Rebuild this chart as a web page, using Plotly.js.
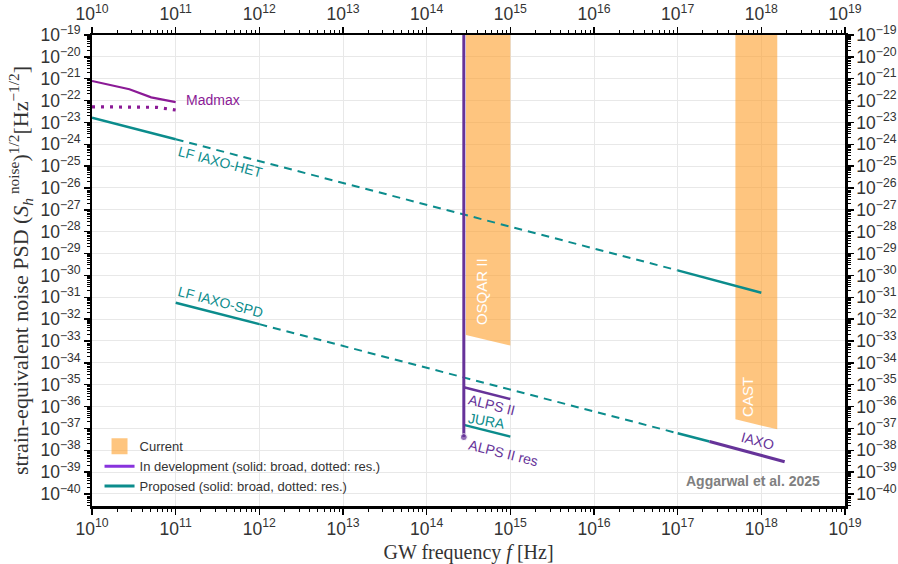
<!DOCTYPE html>
<html><head><meta charset="utf-8">
<script src="https://cdn.plot.ly/plotly-3.0.1.min.js"></script>
<style>body{margin:0;background:#fff}</style>
</head><body><div id="chart" style="width:898px;height:564px"></div>
<script>
// ---- data ----
const madmaxF = [1e10, 2.8e10, 5.1e10, 1e11];
const madmaxS = [7.9e-22, 3.3e-22, 1.4e-22, 8.5e-23];
const madmaxResF = [1e10, 6e10, 1e11];
const madmaxResS = [5.2e-23, 4.9e-23, 3.7e-23];
const hetF = [1e10, 1e11, 1e17, 1e18];
const hetS = [1.66e-23, 1.7e-24, 1.7e-30, 1.6e-31];
const spdF = [1e11, 1e12, 1e17, 2.4e17, 1.9e18];
const spdS = [5.6e-32, 5.9e-33, 6.0e-38, 2.5e-38, 3.0e-39];
const alpsF = [2.78e14, 2.78e14];
const alpsS = [1e-19, 4.0e-38];
const alpsIIF = [2.78e14, 1e15];
const alpsIIS = [7.6e-36, 2.2e-36];
const juraF = [2.78e14, 1e15];
const juraS = [1.45e-37, 4.2e-38];
const osqarF = [2.95e14, 1e15];
const osqarTop = [1e-19, 1e-19];
const osqarBottom = [1.9e-33, 6.2e-34];
const castF = [4.9e17, 1.55e18];
const castTop = [1e-19, 1e-19];
const castBottom = [2.6e-37, 9.1e-38];
const legendLabels = ["Current", "In development (solid: broad, dotted: res.)", "Proposed (solid: broad, dotted: res.)"];

const ORANGE = "rgba(253,158,42,0.6)";
const PURPLE = "#663399";
const MAGENTA = "#8b1a96";
const TEAL = "#0b8c8c";

function band(f, top, bottom) {
  return {x: [f[0], f[1], f[1], f[0], f[0]], y: [top[0], top[1], bottom[1], bottom[0], top[0]],
    type: "scatter", mode: "lines", fill: "toself", fillcolor: ORANGE, line: {width: 0, color: ORANGE},
    showlegend: false, hoverinfo: "skip"};
}
function seg(f, s, i0, i1, color, dash, width) {
  return {x: f.slice(i0, i1 + 1), y: s.slice(i0, i1 + 1), type: "scatter", mode: "lines",
    line: {color: color, dash: dash || "solid", width: width || 2.5}, showlegend: false, hoverinfo: "skip"};
}
const DASH = "8px,6px";
const traces = [
  band(osqarF, osqarTop, osqarBottom),
  band(castF, castTop, castBottom),
  seg(madmaxF, madmaxS, 0, 3, MAGENTA, "solid", 2.2),
  seg(madmaxResF, madmaxResS, 0, 2, MAGENTA, "3px,6px", 3.2),
  seg(hetF, hetS, 0, 1, TEAL),
  seg(hetF, hetS, 1, 2, TEAL, DASH, 2),
  seg(hetF, hetS, 2, 3, TEAL),
  seg(spdF, spdS, 0, 1, TEAL),
  seg(spdF, spdS, 1, 2, TEAL, DASH, 2),
  seg(spdF, spdS, 2, 3, TEAL),
  seg(spdF, spdS, 3, 4, PURPLE, "solid", 3),
  seg(alpsIIF, alpsIIS, 0, 1, PURPLE),
  seg(juraF, juraS, 0, 1, TEAL),
  {x: alpsF, y: alpsS, type: "scatter", mode: "lines+markers", line: {color: PURPLE, width: 3},
   marker: {size: [0, 7], color: PURPLE}, showlegend: false, hoverinfo: "skip"},
  {x: [null], y: [null], type: "scatter", mode: "markers", marker: {symbol: "square", size: 17, color: ORANGE}, name: legendLabels[0], legendrank: 1},
  {x: [null], y: [null], type: "scatter", mode: "lines", line: {color: "#8833dd", width: 3}, name: legendLabels[1], legendrank: 2},
  {x: [null], y: [null], type: "scatter", mode: "lines", line: {color: TEAL, width: 3}, name: legendLabels[2], legendrank: 3},
  {x: [1e10], y: [1e-30], xaxis: "x2", yaxis: "y2", type: "scatter", mode: "markers", marker: {opacity: 0}, showlegend: false, hoverinfo: "skip"}
];

const tickFont = {family: "Liberation Sans, Arial, sans-serif", size: 14, color: "#333"};
const axBase = {type: "log", exponentformat: "power", showexponent: "all", dtick: 1,
  ticks: "outside", ticklen: 6, tickwidth: 1.5, tickcolor: "#000",
  showline: true, linecolor: "#000", linewidth: 2.5, zeroline: false, tickfont: tickFont,
  minor: {ticks: "outside", ticklen: 3, tickwidth: 1, tickcolor: "#000", showgrid: false}};
const xRange = [10, 19], yRange = [-40.55, -19];
const titleFont = {family: "Liberation Serif, Times New Roman, serif", size: 20, color: "#333"};

const lab = (x, y, text, color, angle, size) => ({x: x, y: y, xref: "x", yref: "y", text: text, showarrow: false,
  textangle: angle || 0, font: {family: "Liberation Sans, Arial, sans-serif", size: size || 14, color: color}});

const layout = {
  width: 898, height: 564, margin: {l: 92, r: 53, t: 35, b: 58},
  paper_bgcolor: "#fff", plot_bgcolor: "#fff",
  xaxis: Object.assign({}, axBase, {range: xRange, showgrid: true, gridcolor: "#e8e8e8", gridwidth: 1,
    title: {text: "GW frequency <i>f</i> [Hz]", font: titleFont, standoff: 8}}),
  yaxis: Object.assign({}, axBase, {range: yRange, showgrid: true, gridcolor: "#e8e8e8", gridwidth: 1,
    title: {text: "strain-equivalent noise PSD (<i>S</i><sub><i>h</i></sub><sup> noise</sup>)<sup>1/2</sup>[Hz<sup>−1/2</sup>]", font: Object.assign({}, titleFont, {size: 22}), standoff: 6}}),
  xaxis2: Object.assign({}, axBase, {range: xRange, overlaying: "x", side: "top", anchor: "y2", showgrid: false}),
  yaxis2: Object.assign({}, axBase, {range: yRange, overlaying: "y", side: "right", anchor: "x2", showgrid: false}),
  showlegend: true,
  legend: {x: 0.01, y: 0.01, xanchor: "left", yanchor: "bottom", bgcolor: "rgba(255,255,255,0)",
    font: {family: "Liberation Sans, Arial, sans-serif", size: 13, color: "#333"}, tracegroupgap: 0, itemwidth: 30},
  annotations: [
    lab(11.446, -21.97, "Madmax", MAGENTA),
    lab(11.54, -24.81, "LF IAXO-HET", TEAL, 14.6),
    lab(11.54, -31.21, "LF IAXO-SPD", TEAL, 14.6),
    lab(14.78, -35.93, "ALPS II", PURPLE, 14),
    lab(14.72, -36.66, "JURA", TEAL, 10),
    lab(14.92, -38.12, "ALPS II res", PURPLE, 14),
    lab(17.96, -37.57, "IAXO", PURPLE, 15),
    lab(14.65, -30.76, "OSQAR II", "#fff", -90, 15),
    lab(17.84, -35.56, "CAST", "#fff", -90, 15),
    {x: 0.969, y: 0.053, xref: "paper", yref: "paper", xanchor: "right", yanchor: "middle", showarrow: false,
     text: "<b>Aggarwal et al. 2025</b>", font: {family: "Liberation Sans, Arial, sans-serif", size: 14, color: "#808080"}}
  ]
};
Plotly.newPlot("chart", traces, layout, {displayModeBar: false, staticPlot: true});
</script></body></html>
